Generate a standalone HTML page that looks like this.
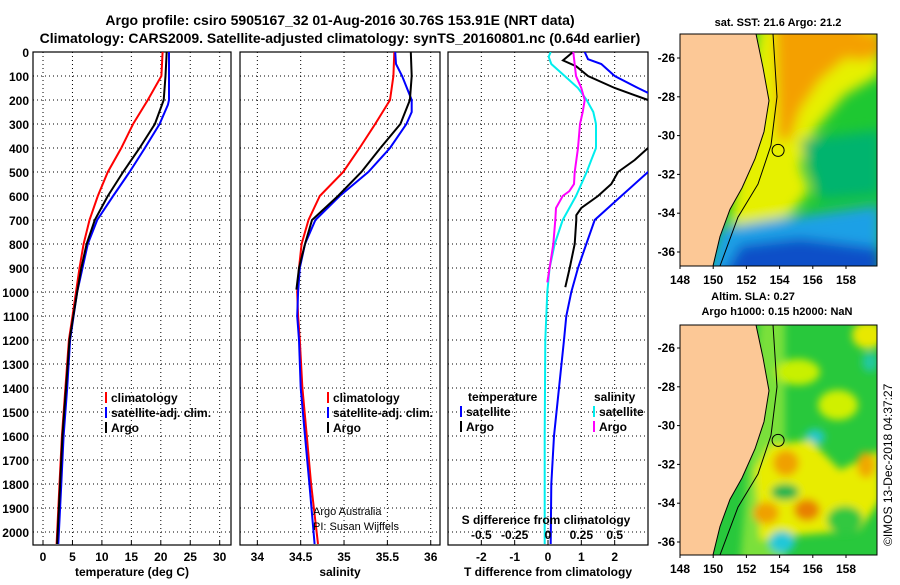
<!DOCTYPE html>
<html><head><meta charset="utf-8"><style>
body{margin:0;background:#fff;width:900px;height:580px;overflow:hidden;font-family:"Liberation Sans",sans-serif}
svg text{font-family:"Liberation Sans",sans-serif;font-weight:bold}
svg text.nb{font-weight:normal}
</style></head><body>
<svg id="fig" width="900" height="580">
<defs><filter id="blur" x="-20%" y="-20%" width="140%" height="140%"><feGaussianBlur stdDeviation="6"/></filter>
<filter id="blur2" x="-20%" y="-20%" width="140%" height="140%"><feGaussianBlur stdDeviation="4"/></filter></defs>
<text x="340" y="25" font-size="14" text-anchor="middle">Argo profile: csiro 5905167_32 01-Aug-2016 30.76S 153.91E (NRT data)</text>
<text x="340" y="43" font-size="14" text-anchor="middle">Climatology: CARS2009. Satellite-adjusted climatology: synTS_20160801.nc (0.64d earlier)</text>
<g id="plots"></g>
<g id="maps"></g>
<text class="nb" transform="translate(892,546) rotate(-90)" font-size="12">©IMOS 13-Dec-2018 04:37:27</text>
</svg>
<script>
const depthTicks=[0,100,200,300,400,500,600,700,800,900,1000,1100,1200,1300,1400,1500,1600,1700,1800,1900,2000];
const tDepth=[0,100,200,300,400,500,600,700,800,900,1000,1100,1200,1400,1600,1800,2050];
const tClim=[20.3,20.1,17.8,15.3,13.3,11.0,9.3,7.9,6.9,6.2,5.6,5.0,4.4,3.8,3.2,2.8,2.3];
const tSatDepth=[0,100,200,220,300,400,500,600,700,800,900,1000,1100,1200,1400,1600,1800,2050];
const tSat=[21.4,21.4,21.4,21.2,19.8,17.3,14.7,11.9,9.2,7.6,6.7,5.8,5.2,4.6,4.1,3.5,3.1,2.6];
const tArgoDepth=[0,100,200,300,400,500,600,650,700,800,900,1000,1200,1400,1600,1800,2050];
const tArgo=[21.0,20.8,20.5,19.0,16.4,13.6,11.0,9.9,8.8,7.4,6.5,5.8,4.5,3.9,3.3,2.9,2.4];
const sDepth=[0,100,200,300,400,500,600,700,800,900,1000,1100,1200,1400,1600,1800,2050];
const sClim=[35.58,35.57,35.53,35.36,35.18,34.99,34.72,34.59,34.51,34.48,34.46,34.47,34.49,34.52,34.57,34.62,34.70];
const sSatDepth=[0,50,100,200,250,300,400,500,600,700,800,900,1000,1100,1200,1400,1600,1800,2050];
const sSat=[35.59,35.6,35.67,35.78,35.78,35.72,35.53,35.28,34.95,34.67,34.55,34.49,34.47,34.46,34.48,34.5,34.55,34.6,34.66];
const sArgoDepth=[0,100,200,300,400,500,600,700,800,900,990];
const sArgo=[35.77,35.78,35.76,35.65,35.42,35.2,34.93,34.63,34.55,34.48,34.45];
const tdDepth=[0,35,60,100,150,200,230,380,400,450,500,550,600,650,680,700,800,900,980];
const tdArgo=[0.75,0.45,0.85,1.2,2.0,3.0,3.4,3.4,3.0,2.6,2.1,1.9,1.5,1.0,0.85,0.85,0.8,0.65,0.52];
const tdSatDepth=[0,30,50,100,150,170,200,450,500,600,700,800,900,1000,1100,1200,1400,1600,1800,2050];
const tdSat=[1.1,1.2,1.6,2.0,2.7,3.0,3.4,3.4,3.0,2.2,1.4,1.15,0.9,0.7,0.55,0.48,0.33,0.18,0.1,0.08];
const sdDepth=[0,100,150,200,250,300,400,500,550,580,600,650,700,800,900,960];
const sdArgo=[0.19,0.21,0.25,0.275,0.26,0.24,0.225,0.2,0.195,0.16,0.11,0.06,0.055,0.04,0.012,-0.005];
const sdSatDepth=[0,20,50,100,150,200,250,300,400,450,500,600,700,800,900,1000,1200,1600,2050];
const sdSat=[0.02,0.005,0.025,0.125,0.225,0.29,0.34,0.36,0.36,0.325,0.29,0.21,0.11,0.05,0.012,-0.005,-0.02,-0.025,-0.025];

const NS='http://www.w3.org/2000/svg';
function mk(tag,attrs,parent){const e=document.createElementNS(NS,tag);for(const k in attrs)e.setAttribute(k,attrs[k]);(parent||document.getElementById('plots')).appendChild(e);return e;}
const yTop=52,yBot=545;
function yD(d){return 52+d*0.24;}
function panel(x0,x1,xmin,xmax,ticks,tickLabels,name){
  const xs=v=>x0+(v-xmin)/(xmax-xmin)*(x1-x0);
  const g=mk('g',{});
  
  
  ticks.forEach((t,i)=>{const x=xs(t);
    mk('line',{x1:x,x2:x,y1:yTop,y2:yBot,stroke:'#000','stroke-dasharray':'1,3','stroke-width':1},g);
    mk('line',{x1:x,x2:x,y1:yBot,y2:yBot-4,stroke:'#000'},g);
    if(tickLabels){const t2=mk('text',{x:x,y:561,'font-size':12,'text-anchor':'middle'},g);t2.textContent=tickLabels[i];}
  });
  depthTicks.forEach(d=>{const y=yD(d);
    mk('line',{x1:x0,x2:x1,y1:y,y2:y,stroke:'#000','stroke-dasharray':'1,3','stroke-width':1},g);});
  mk('rect',{x:x0,y:yTop,width:x1-x0,height:yBot-yTop,fill:'none',stroke:'#000','stroke-width':1.2},g);
  const cid='clip'+x0;
  const cp=mk('clipPath',{id:cid},g);mk('rect',{x:x0,y:yTop,width:x1-x0,height:yBot-yTop},cp);
  return {xs,g,clip:'url(#'+cid+')'};
}
function line(p,xv,dv,color,name){
  const pts=xv.map((v,i)=>p.xs(v).toFixed(1)+','+yD(dv[i]).toFixed(1)).join(' ');
  const e=mk('polyline',{points:pts,fill:'none',stroke:color,'stroke-width':2,'clip-path':p.clip},p.g);
  
  
}
function txt(x,y,s,size,name,anchor,parent){const e=mk('text',{x:x,y:y,'font-size':size,'text-anchor':anchor||'start'},parent);e.textContent=s;
  return e;}
depthTicks.forEach(d=>txt(29,yD(d)+5,String(d),12,'y-tick-label','end'));

const p1=panel(33,231,-1.70,31.92,[0,5,10,15,20,25,30],['0','5','10','15','20','25','30'],'temperature-panel');
line(p1,tClim,tDepth,'#f00','temp-climatology');
line(p1,tSat,tSatDepth,'#00f','temp-satellite');
line(p1,tArgo,tArgoDepth,'#000','temp-argo');
txt(132,576,'temperature (deg C)',12,'x-axis-title-temperature','middle');
[['#f00','climatology',402],['#00f','satellite-adj. clim.',417],['#000','Argo',432]].forEach(([c,s,y])=>{
  mk('line',{x1:106,x2:106,y1:y-10,y2:y+1,stroke:c,'stroke-width':2});txt(111,y,s,12,'legend-entry');});

const p2=panel(240,440,33.80,36.107,[34,34.5,35,35.5,36],['34','34.5','35','35.5','36'],'salinity-panel');
line(p2,sClim,sDepth,'#f00','sal-climatology');
line(p2,sSat,sSatDepth,'#00f','sal-satellite');
line(p2,sArgo,sArgoDepth,'#000','sal-argo');
txt(340,576,'salinity',12,'x-axis-title-salinity','middle');
[['#f00','climatology',402],['#00f','satellite-adj. clim.',417],['#000','Argo',432]].forEach(([c,s,y])=>{
  mk('line',{x1:328,x2:328,y1:y-10,y2:y+1,stroke:c,'stroke-width':2});txt(333,y,s,12,'legend-entry');});
txt(313,515,'Argo Australia',11,'credit-argo-australia').setAttribute('class','nb');
txt(313,530,'PI: Susan Wijffels',11,'credit-pi').setAttribute('class','nb');

const p3=panel(448,648,-3,3,[-2,-1,0,1,2],['-2','-1','0','1','2'],'difference-panel');
line(p3,tdSat,tdSatDepth,'#00f','tdiff-satellite');
line(p3,tdArgo,tdDepth,'#000','tdiff-argo');
const s3={xs:v=>p3.xs(v*4),g:p3.g,clip:p3.clip};
line(s3,sdSat,sdSatDepth,'#0ee','sdiff-satellite');
line(s3,sdArgo,sdDepth,'#f0f','sdiff-argo');
txt(546,524,'S difference from climatology',12,'s-axis-title','middle');
[['-0.5',-0.5],['-0.25',-0.25],['0',0],['0.25',0.25],['0.5',0.5]].forEach(([s,v])=>txt(s3.xs(v),539,s,12,'s-tick-label','middle'));
txt(548,576,'T difference from climatology',12,'x-axis-title-tdiff','middle');
txt(468,401,'temperature',12,'legend-title-temperature');
txt(594,401,'salinity',12,'legend-title-salinity');
[['#00f','satellite',416,458],['#000','Argo',431,458],['#0ee','satellite',416,591],['#f0f','Argo',431,591]].forEach(([c,s,y,x])=>{
  mk('line',{x1:x+3,x2:x+3,y1:y-10,y2:y+1,stroke:c,'stroke-width':2});txt(x+8,y,s,12,'legend-entry');});

// maps
const maps=document.getElementById('maps');
const lonTicks=[148,150,152,154,156,158];
const latTicks=[-26,-28,-30,-32,-34,-36];
function map(y0,y1,lat26,titles,name,sst){
  const g=mk('g',{},maps);
  const lx=v=>680+(v-148)*16.6, ly=v=>lat26+(-26-v)*19.4;
  const cid='cm'+y0;
  const cp=mk('clipPath',{id:cid},g);mk('rect',{x:680,y:y0,width:197,height:y1-y0},cp);
  const gg=mk('g',{'clip-path':'url(#'+cid+')'},g);
  if(sst){
    mk('rect',{x:680,y:y0,width:197,height:y1-y0,fill:'#1ec832'},gg);
    const b=mk('g',{filter:'url(#blur)'},gg);
    mk('path',{d:`M760 20 L880 20 L880 75 L845 95 L815 130 L800 165 L810 190 L790 215 L760 225 L730 225 Z`,fill:'#e6f000'},b);
    mk('path',{d:`M775 20 L860 20 L855 50 L820 80 L800 110 L790 140 L778 140 Z`,fill:'#f4a000'},b);
    mk('ellipse',{cx:860,cy:45,rx:25,ry:15,fill:'#f4a000'},b);
    mk('path',{d:`M800 140 L880 130 L880 195 L820 200 Z`,fill:'#00b46e'},b);
    mk('path',{d:`M700 300 L720 228 L770 220 L880 205 L880 300 Z`,fill:'#1aa0e6'},b);
    mk('path',{d:`M710 300 L740 245 L800 238 L880 248 L880 300 Z`,fill:'#1050c8'},b);
  }else{
    mk('rect',{x:680,y:y0,width:197,height:y1-y0,fill:'#28c83c'},gg);
    const b=mk('g',{filter:'url(#blur2)'},gg);
    mk('path',{d:`M760 ${y0-10} L785 ${y0-10} L785 ${y1+10} L740 ${y1+10} Z`,fill:'#7ae03a'},b);
    mk('ellipse',{cx:798,cy:372,rx:22,ry:13,fill:'#c8f000'},b);
    mk('ellipse',{cx:838,cy:405,rx:20,ry:15,fill:'#d0f000'},b);
    mk('ellipse',{cx:868,cy:335,rx:16,ry:14,fill:'#e8e800'},b);
    mk('ellipse',{cx:815,cy:437,rx:10,ry:8,fill:'#20c8c8'},b);
    mk('ellipse',{cx:870,cy:362,rx:8,ry:10,fill:'#20c8a0'},b);
    mk('path',{d:`M770 445 L810 440 L840 470 L880 450 L880 500 L860 530 L800 535 L760 540 L755 470 Z`,fill:'#e8ec00'},b);
    mk('ellipse',{cx:786,cy:463,rx:13,ry:13,fill:'#f0a000'},b);
    mk('ellipse',{cx:766,cy:513,rx:13,ry:11,fill:'#f0a000'},b);
    mk('ellipse',{cx:807,cy:510,rx:13,ry:11,fill:'#e88000'},b);
    mk('ellipse',{cx:866,cy:465,rx:9,ry:13,fill:'#f0a800'},b);
    mk('ellipse',{cx:785,cy:492,rx:14,ry:8,fill:'#14b450'},b);
    mk('ellipse',{cx:782,cy:542,rx:13,ry:11,fill:'#20c8d8'},b);
    mk('ellipse',{cx:845,cy:520,rx:18,ry:14,fill:'#30c840'},b);
  }
  mk('path',{d:`M680 ${y0} L756 ${y0} L763 ${ly(-26.5)} L769 ${ly(-28.2)} L764 ${ly(-29.8)} L755 ${ly(-31.2)} L742 ${ly(-32.7)} L730 ${ly(-33.8)} L720 ${ly(-35.2)} L713 ${y1} L680 ${y1} Z`,fill:'#fcc896',stroke:'#000','stroke-width':1},gg);
  mk('path',{d:`M773 ${y0} L777 ${ly(-28)} L771 ${ly(-30.5)} L758 ${ly(-32.5)} L738 ${ly(-34.2)} L720 ${y1}`,fill:'none',stroke:'#000','stroke-width':1},gg);
  mk('circle',{cx:lx(153.91),cy:ly(-30.76),r:6,fill:'none',stroke:'#000','stroke-width':1},g);
  mk('rect',{x:680,y:y0,width:197,height:y1-y0,fill:'none',stroke:'#000'},g);
  lonTicks.forEach(v=>{mk('line',{x1:lx(v),x2:lx(v),y1:y1,y2:y1+3,stroke:'#000'},g);txt(lx(v),y1+18,String(v),12,'lon-tick-label','middle',g);});
  latTicks.forEach(v=>{mk('line',{x1:677,x2:680,y1:ly(v),y2:ly(v),stroke:'#000'},g);txt(675,ly(v)+4,String(v),12,'lat-tick-label','end',g);});
  titles.forEach(([t,x,y])=>txt(x,y,t,11,'map-title','middle',g));
}
map(34,266,58,[['sat. SST: 21.6 Argo: 21.2',778,26]],'sst-map',true);
map(325,555,348,[['Altim. SLA: 0.27',753,300],['Argo h1000: 0.15 h2000: NaN',777,315]],'sla-map',false);
</script>
</body></html>
